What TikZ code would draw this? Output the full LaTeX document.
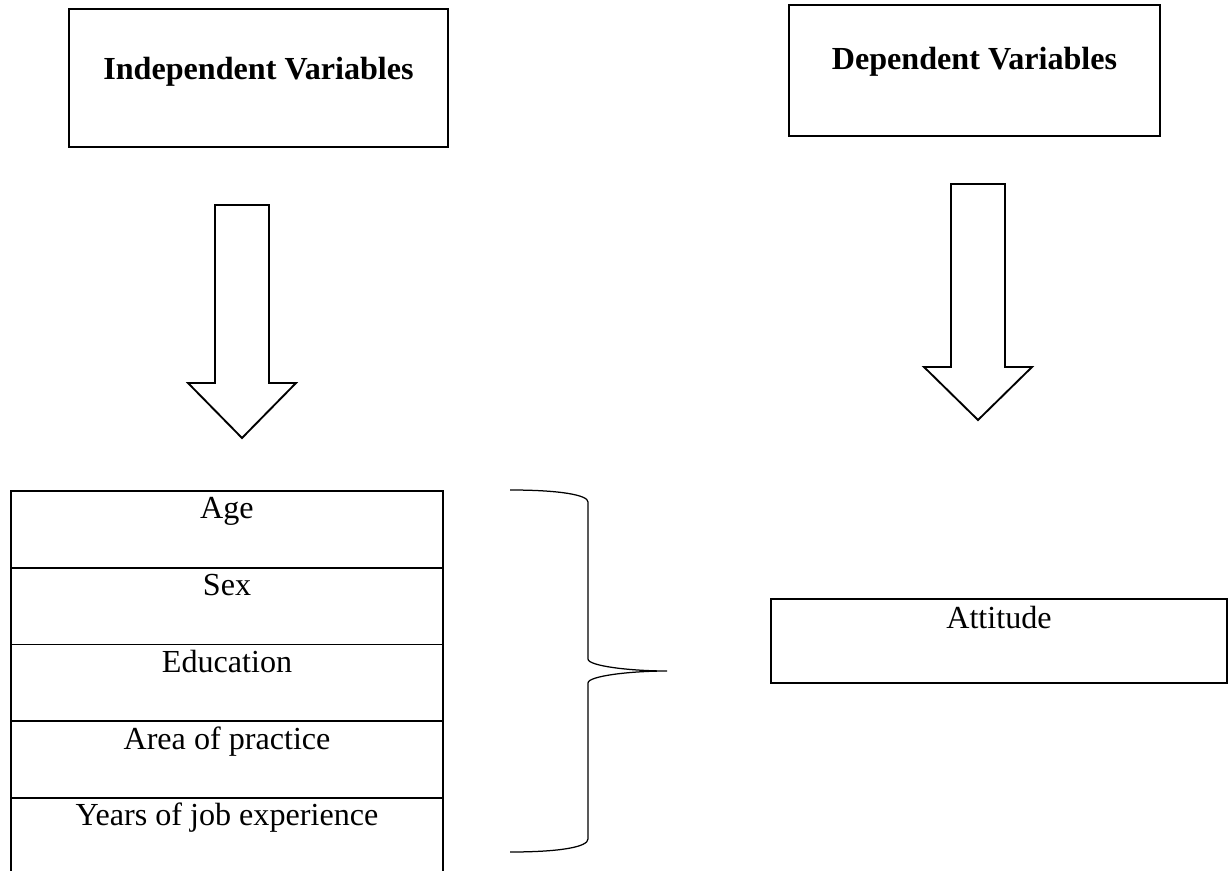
\documentclass[tikz,border=0pt]{standalone}
\usepackage{fontspec}
\setmainfont{Liberation Serif}

\tikzset{
  varbox/.style n args={3}{draw, line width=0.75pt, anchor=north, inner ysep=0pt,
    minimum width=#1, text height=#2, text depth=#3},
  blockarr/.style={draw, line width=0.75pt, line join=miter},
  bracepath/.style={draw, line width=0.5pt}
}

% hollow arrow pointing down: centre x, top y, head y, tip y
\newcommand{\blockarrow}[4]{%
  \draw[blockarr] (#1-27,#2) -- (#1+27,#2) -- (#1+27,#3) -- (#1+54,#3)
    -- (#1,#4) -- (#1-54,#3) -- (#1-27,#3) -- cycle;}

\begin{document}
\begin{tikzpicture}[x=0.4pt, y=-0.4pt, font=\fontsize{12.85}{15}\selectfont]
    \path[use as bounding box, clip] (0,0) rectangle (1232,871);

    % Headings
    \node[varbox={151.6pt}{28.4pt}{26.8pt}] (indep) at (258.5,8) {\textbf{Independent Variables}};
    \node[varbox={148.4pt}{26pt}{26.4pt}] (dep) at (974.5,4) {\textbf{Dependent Variables}};

    % Block arrows
    \blockarrow{242}{205}{383}{438}
    \blockarrow{978}{184}{367}{420}

    % Independent variables
    \foreach \lbl [count=\i from 0] in {Age, Sex, Education, Area of practice, Years of job experience}
        \node[varbox={172.8pt}{11.2pt}{19.5pt}] (var\i) at (227,490+76.75*\i) {\lbl};

    % Brace
    \draw[bracepath] (510,490) .. controls (560,490) and (588,495) .. (588,502)
        -- (588,659) .. controls (588,666) and (630,671) .. (667,671)
        .. controls (630,671) and (588,676) .. (588,683)
        -- (588,839) .. controls (588,847) and (560,852) .. (510,852);

    % Dependent variable
    \node[varbox={182.4pt}{12pt}{21.6pt}] (attitude) at (999,598) {Attitude};
\end{tikzpicture}
\end{document}
